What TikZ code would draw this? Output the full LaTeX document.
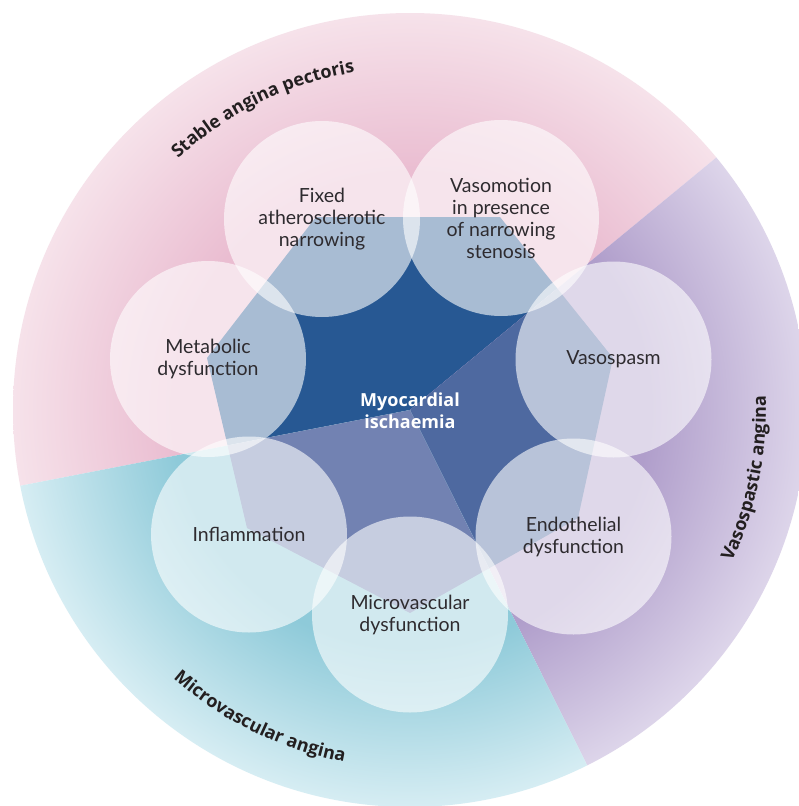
\documentclass[tikz,border=0pt]{standalone}
\usepackage{fontspec}
\setmainfont{Lato}
\newfontfamily\boldfam{Open Sans}
\usetikzlibrary{decorations.text}
\definecolor{pinkD}{HTML}{EABDD1}
\definecolor{pinkL}{HTML}{F6E2EA}
\definecolor{tealD}{HTML}{8ECAD9}
\definecolor{tealL}{HTML}{D6EDF3}
\definecolor{purpD}{HTML}{B09ECB}
\definecolor{purpL}{HTML}{DDD5EA}
\definecolor{blueA}{HTML}{275893}
\definecolor{blueB}{HTML}{4E69A0}
\definecolor{blueC}{HTML}{7282B2}
\definecolor{labelcol}{HTML}{2E2B2F}
\definecolor{ringcol}{HTML}{231F20}
\pgfdeclareradialshading{pinkrad}{\pgfpoint{0bp}{0bp}}{color(0bp)=(pinkD); color(15bp)=(pinkD); color(25bp)=(pinkL); color(50bp)=(pinkL)}
\pgfdeclareradialshading{tealrad}{\pgfpoint{0bp}{0bp}}{color(0bp)=(tealD); color(15bp)=(tealD); color(25bp)=(tealL); color(50bp)=(tealL)}
\pgfdeclareradialshading{purprad}{\pgfpoint{0bp}{0bp}}{color(0bp)=(purpD); color(15bp)=(purpD); color(25bp)=(purpL); color(50bp)=(purpL)}
\newcommand\ringfont{\boldfam\bfseries\fontsize{18}{18}\selectfont}
\begin{document}
\begin{tikzpicture}[x=1pt,y=-1pt,
  bub/.style={circle, minimum size=196pt, inner sep=0pt, fill=white, fill opacity=0.6, text opacity=1, text=labelcol, align=center, font=\fontsize{19.5}{22}\selectfont},
  ringlabel/.style={decorate, decoration={text along path, text align=center, text color=ringcol, text={|\ringfont|#1}}}]
\useasboundingbox (0,0) rectangle (799,806);
\fill[white] (0,0) rectangle (799,806);
\coordinate (O) at (410,410);
\def\polypath{(316,217) -- (500,217) -- (613,358) -- (578,518) -- (410,613) -- (247,528) -- (207,358) -- cycle}
% pink sector
\begin{scope}
\clip (O) -- ([shift={(O)}]-39.5:420) arc[start angle=-39.5, end angle=-191, radius=420] -- cycle;
\shade[shading=pinkrad] (O) circle[radius=397];
\fill[blueA] \polypath;
\end{scope}
% purple sector
\begin{scope}
\clip (O) -- ([shift={(O)}]63.5:420) arc[start angle=63.5, end angle=-39.5, radius=420] -- cycle;
\shade[shading=purprad] (O) circle[radius=397];
\fill[blueB] \polypath;
\end{scope}
% teal sector
\begin{scope}
\clip (O) -- ([shift={(O)}]-191:420) arc[start angle=-191, end angle=-296.5, radius=420] -- cycle;
\shade[shading=tealrad] (O) circle[radius=397];
\fill[blueC] \polypath;
\end{scope}
% bubbles
\node[bub] (fixed) at (322,219) {Fixed\\atherosclerotic\\narrowing};
\node[bub] (vasomotion) at (501,218) {Vasomotion\\in presence\\of narrowing\\stenosis};
\node[bub] (vasospasm) at (613.5,359.5) {Vasospasm};
\node[bub] (endo) at (573.5,536.5) {Endothelial\\dysfunction};
\node[bub] (micro) at (410,614.5) {Microvascular\\dysfunction};
\node[bub] (inflam) at (249,534.5) {Inflammation};
\node[bub] (metab) at (208,359) {Metabolic\\dysfunction};
\node[text=white, align=center, font=\boldfam\bfseries\fontsize{18}{22}\selectfont] (isch) at (410,411) {Myocardial\\ischaemia};
% ring labels
\path[ringlabel={Stable angina pectoris}] ([shift={(O)}]-150:342) arc[start angle=-150, end angle=-82, radius=342];
\path[ringlabel={Microvascular angina}] ([shift={(O)}]-210:358) arc[start angle=-210, end angle=-278, radius=358];
\path[ringlabel={Vasospastic angina}] ([shift={(O)}]45:356) arc[start angle=45, end angle=-22, radius=356];
\end{tikzpicture}
\end{document}
